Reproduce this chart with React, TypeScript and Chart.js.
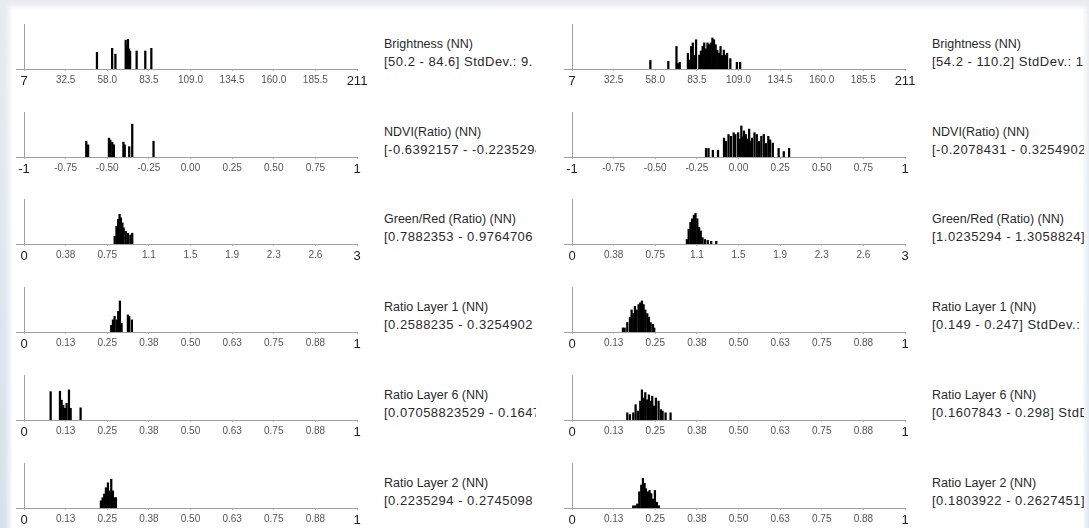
import React, { useEffect, useRef } from "react";
import { Chart, registerables } from "chart.js";
Chart.register(...registerables);

// ---- tick values / labels ----
const brightnessTickValues = [7, 32.5, 58, 83.5, 109, 134.5, 160, 185.5, 211];
const brightnessTickLabels = ["7", "32.5", "58.0", "83.5", "109.0", "134.5", "160.0", "185.5", "211"];
const ndviTickValues = [-1, -0.75, -0.5, -0.25, 0, 0.25, 0.5, 0.75, 1];
const ndviTickLabels = ["-1", "-0.75", "-0.50", "-0.25", "0.00", "0.25", "0.50", "0.75", "1"];
const greenRedTickValues = [0, 0.375, 0.75, 1.125, 1.5, 1.875, 2.25, 2.625, 3];
const greenRedTickLabels = ["0", "0.38", "0.75", "1.1", "1.5", "1.9", "2.3", "2.6", "3"];
const ratioTickValues = [0, 0.125, 0.25, 0.375, 0.5, 0.625, 0.75, 0.875, 1];
const ratioTickLabels = ["0", "0.13", "0.25", "0.38", "0.50", "0.63", "0.75", "0.88", "1"];

// ---- feature names and range texts ----
const featureNames = ["Brightness (NN)", "NDVI(Ratio) (NN)", "Green/Red (Ratio) (NN)", "Ratio Layer 1 (NN)", "Ratio Layer 6 (NN)", "Ratio Layer 2 (NN)"];
const leftRanges = ["[50.2 - 84.6] StdDev.: 9.", "[-0.6392157 - -0.2235294", "[0.7882353 - 0.9764706", "[0.2588235 - 0.3254902", "[0.07058823529 - 0.1647", "[0.2235294 - 0.2745098"];
const rightRanges = ["[54.2 - 110.2] StdDev.: 1", "[-0.2078431 - 0.3254902", "[1.0235294 - 1.3058824]", "[0.149 - 0.247] StdDev.:", "[0.1607843 - 0.298] StdD", "[0.1803922 - 0.2627451]"];

// ---- left column histograms ----
const brightLX = [51.7, 61, 63, 69.3, 70.1, 70.7, 71.3, 72, 76, 81.3, 85];
const brightLY = [37, 46, 33, 64, 50, 66, 45, 40, 40, 40, 46];
const ndviLX = [-0.626, -0.615, -0.49, -0.482, -0.47, -0.46, -0.403, -0.395, -0.368, -0.35, -0.222];
const ndviLY = [35, 27, 42, 38, 33, 27, 33, 27, 23, 73, 35];
const greenRedLX = [0.817, 0.833, 0.848, 0.861, 0.873, 0.886, 0.898, 0.917, 0.936, 0.958, 0.975];
const greenRedLY = [17, 39, 55, 66, 58, 47, 36, 28, 24, 20, 24];
const ratio1LX = [0.262, 0.267, 0.272, 0.278, 0.283, 0.288, 0.293, 0.312, 0.316, 0.324];
const ratio1LY = [15, 27, 35, 27, 46, 69, 19, 38, 35, 27];
const ratio6LX = [0.08, 0.108, 0.113, 0.118, 0.123, 0.128, 0.135, 0.14, 0.17];
const ratio6LY = [63, 64, 44, 33, 26, 37, 67, 26, 27];
const ratio2LX = [0.231, 0.236, 0.241, 0.246, 0.252, 0.257, 0.262, 0.267, 0.272, 0.276];
const ratio2LY = [16, 23, 31, 45, 56, 38, 64, 38, 23, 23];

// ---- right column histograms ----
const brightRX = [55, 66, 71, 72, 73, 78, 79, 80, 81, 82, 83, 85, 86, 87, 88, 89, 90, 91, 92, 93, 94, 95, 96, 97, 98, 99, 100, 101, 102, 104, 108, 110];
const brightRY = [19, 17, 50, 12, 15, 35, 20, 50, 58, 30, 65, 31, 40, 50, 58, 45, 58, 54, 58, 69, 65, 54, 42, 35, 50, 30, 42, 31, 35, 23, 15, 15];
const ndviRX = [-0.195, -0.18, -0.154, -0.123, -0.087, -0.075, -0.06, -0.046, -0.029, -0.019, -0.002, 0.008, 0.017, 0.025, 0.033, 0.044, 0.054, 0.064, 0.072, 0.081, 0.096, 0.11, 0.124, 0.137, 0.152, 0.165, 0.179, 0.19, 0.206, 0.241, 0.272, 0.304];
const ndviRY = [19, 19, 15, 15, 42, 35, 50, 46, 54, 50, 54, 40, 69, 45, 58, 50, 40, 62, 35, 42, 54, 50, 35, 46, 50, 30, 46, 38, 31, 19, 12, 19];
const greenRedRX = [1.035, 1.051, 1.067, 1.082, 1.098, 1.113, 1.129, 1.145, 1.16, 1.176, 1.198, 1.223, 1.254, 1.3];
const greenRedRY = [10, 33, 48, 56, 64, 68, 56, 37, 29, 14, 10, 8, 6, 6];
const ratio1RX = [0.153, 0.158, 0.166, 0.174, 0.179, 0.184, 0.189, 0.194, 0.2, 0.205, 0.21, 0.215, 0.22, 0.226, 0.231, 0.236, 0.243, 0.247];
const ratio1RY = [9, 9, 21, 33, 49, 41, 57, 49, 61, 65, 69, 61, 49, 41, 33, 21, 17, 9];
const ratio6RX = [0.166, 0.174, 0.184, 0.191, 0.198, 0.205, 0.21, 0.215, 0.22, 0.226, 0.231, 0.236, 0.241, 0.246, 0.252, 0.26, 0.267, 0.272, 0.281, 0.296];
const ratio6RY = [16, 12, 16, 34, 20, 42, 67, 49, 61, 45, 56, 42, 53, 31, 49, 42, 23, 20, 16, 16];
const ratio2RX = [0.184, 0.19, 0.196, 0.202, 0.208, 0.213, 0.218, 0.222, 0.228, 0.233, 0.238, 0.243, 0.249, 0.255, 0.261];
const ratio2RY = [5, 5, 9, 36, 51, 66, 55, 43, 36, 39, 32, 20, 39, 13, 5];

type AxisDef = { min: number; max: number; values: number[]; labels: string[] };
const axes: AxisDef[] = [
  { min: 7, max: 211, values: brightnessTickValues, labels: brightnessTickLabels },
  { min: -1, max: 1, values: ndviTickValues, labels: ndviTickLabels },
  { min: 0, max: 3, values: greenRedTickValues, labels: greenRedTickLabels },
  { min: 0, max: 1, values: ratioTickValues, labels: ratioTickLabels },
  { min: 0, max: 1, values: ratioTickValues, labels: ratioTickLabels },
  { min: 0, max: 1, values: ratioTickValues, labels: ratioTickLabels },
];
const leftSeries = [[brightLX, brightLY], [ndviLX, ndviLY], [greenRedLX, greenRedLY], [ratio1LX, ratio1LY], [ratio6LX, ratio6LY], [ratio2LX, ratio2LY]];
const rightSeries = [[brightRX, brightRY], [ndviRX, ndviRY], [greenRedRX, greenRedRY], [ratio1RX, ratio1RY], [ratio6RX, ratio6RY], [ratio2RX, ratio2RY]];

// layout
const COL_X = [0, 548];
const BASELINES = [69, 157, 244, 332, 420, 508];
const AXIS_START = 24;
const AXIS_LEN = 333;
const STUB = 8; // horizontal axis line extends left of the vertical axis
const PLOT_H = 45;
const PAD_L = 4;
const PAD_R = 18;
const PAD_T = 2;
const XAXIS_H = 20;
const CANVAS_W = PAD_L + STUB + AXIS_LEN + PAD_R;
const CANVAS_H = PAD_T + PLOT_H + XAXIS_H;
const FONT = "'Liberation Sans', Arial, sans-serif";

type Panel = { col: number; row: number; xs: number[]; ys: number[]; axis: AxisDef; name: string; range: string };
const panels: Panel[] = [];
for (let c = 0; c < 2; c++) {
  for (let r = 0; r < 6; r++) {
    const s = c === 0 ? leftSeries[r] : rightSeries[r];
    panels.push({ col: c, row: r, xs: s[0], ys: s[1], axis: axes[r], name: featureNames[r], range: c === 0 ? leftRanges[r] : rightRanges[r] });
  }
}

function HistPanel({ p }: { p: Panel }) {
  const ref = useRef<HTMLCanvasElement | null>(null);
  useEffect(() => {
    if (!ref.current) return;
    const last = p.axis.values.length - 1;
    const unitsPerPx = (p.axis.max - p.axis.min) / AXIS_LEN;
    const xMin = p.axis.min - STUB * unitsPerPx;
    const chart = new Chart(ref.current, {
      type: "bar",
      data: {
        datasets: [
          {
            data: p.xs.map((x, i) => ({ x, y: p.ys[i] })),
            backgroundColor: "#000000",
            borderWidth: 0,
            barThickness: 1.6,
          } as any,
        ],
      },
      options: {
        animation: false,
        responsive: false,
        maintainAspectRatio: false,
        layout: { padding: { left: PAD_L, right: PAD_R, top: PAD_T, bottom: 0 } },
        plugins: { legend: { display: false }, tooltip: { enabled: false } },
        scales: {
          x: {
            type: "linear",
            min: xMin,
            max: p.axis.max,
            offset: false,
            afterBuildTicks: (s: any) => {
              s.ticks = p.axis.values.map((v) => ({ value: v }));
            },
            afterFit: (s: any) => {
              s.paddingLeft = 0;
              s.paddingRight = 0;
              s.height = XAXIS_H;
            },
            grid: { display: true, offset: false, drawOnChartArea: false, drawTicks: true, tickLength: 2, color: "#b5b5b5" },
            border: { display: true, color: "#a0a0a0", width: 1 },
            ticks: {
              autoSkip: false,
              maxRotation: 0,
              minRotation: 0,
              padding: 3,
              color: (ctx: any) => (ctx.index === 0 || ctx.index === last ? "#222" : "#555"),
              font: (ctx: any) => ({ family: FONT, size: ctx.index === 0 || ctx.index === last ? 13 : 10 }),
              callback: (_v: any, i: number) => p.axis.labels[i],
            },
          } as any,
          y: {
            min: 0,
            max: 100,
            display: true,
            position: { x: p.axis.min },
            afterFit: (s: any) => {
              s.width = 0;
            },
            ticks: { display: false },
            grid: { display: false, drawTicks: false },
            border: { display: true, color: "#a0a0a0", width: 1 },
          } as any,
        },
      },
    });
    return () => chart.destroy();
  }, [p]);

  const cx = COL_X[p.col];
  const b = BASELINES[p.row];
  return (
    <>
      <canvas
        ref={ref}
        width={CANVAS_W}
        height={CANVAS_H}
        style={{ position: "absolute", left: cx + AXIS_START - STUB - PAD_L, top: b - PLOT_H - PAD_T, width: CANVAS_W, height: CANVAS_H }}
      />
      <div
        style={{
          position: "absolute",
          left: cx + 384,
          top: b - 33,
          width: 152,
          overflow: "hidden",
          whiteSpace: "nowrap",
          fontFamily: FONT,
          fontSize: 12.5,
          lineHeight: "17px",
          color: "#2a2a2a",
        }}
      >
        <div>{p.name}</div>
        <div style={{ fontSize: 13, letterSpacing: "0.5px" }}>{p.range}</div>
      </div>
    </>
  );
}

export default function App() {
  return (
    <div
      style={{
        position: "fixed",
        left: 0,
        top: 0,
        width: 1089,
        height: 528,
        overflow: "hidden",
        background: "linear-gradient(180deg, #e7ebef 0%, #dde6ee 60%, #d6e1eb 100%)",
      }}
    >
      <div
        style={{
          position: "absolute",
          left: 12,
          top: 9,
          width: 1071,
          height: 530,
          background: "#ffffff",
          boxShadow: "0 0 6px 3px #ffffff",
        }}
      />
      {panels.map((p, i) => (
        <HistPanel key={i} p={p} />
      ))}
    </div>
  );
}
